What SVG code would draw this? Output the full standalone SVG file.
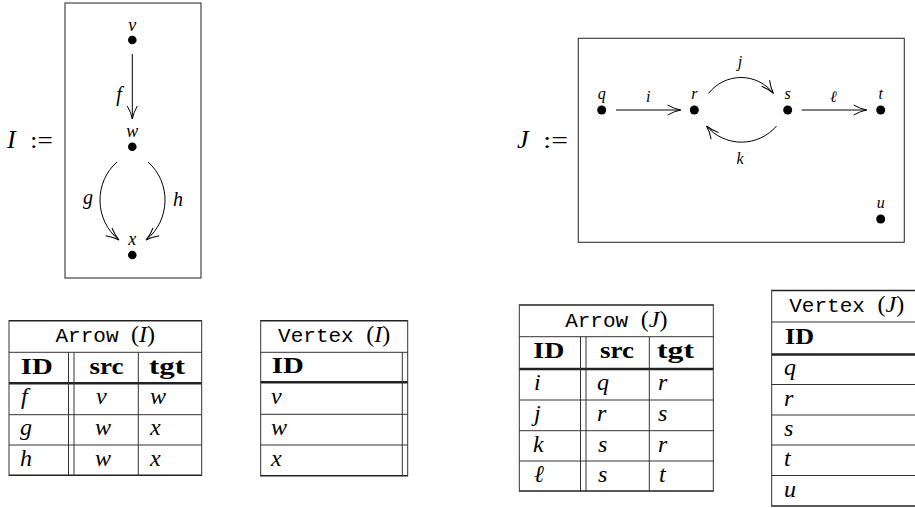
<svg xmlns="http://www.w3.org/2000/svg" width="915" height="508" viewBox="0 0 915 508">
<defs>
<style>
.bg{fill:#fff}
.frame{fill:none;stroke:#333;stroke-width:1.1}
.edge{fill:none;stroke:#000;stroke-width:1}
.dot{fill:#000}
.m{font-family:"Liberation Serif","DejaVu Serif",serif;font-style:italic;fill:#000}
.rm{font-family:"Liberation Serif","DejaVu Serif",serif;fill:#000}
.tt{font-family:"Liberation Mono","DejaVu Sans Mono",monospace;fill:#000}
.bf{font-family:"Liberation Serif","DejaVu Serif",serif;font-weight:bold;fill:#000;font-size:24px}
.nl{font-size:18px}
.el{font-size:20px}
.nl2{font-size:16px}
.el2{font-size:16px}
.cell{font-size:24px}
.ln{stroke:#333;stroke-width:1;fill:none}
.thick{stroke:#222;stroke-width:2.6;fill:none}
.outer{stroke:#222;stroke-width:1.6;fill:none}
</style>
<marker id="ah" markerWidth="16" markerHeight="12" refX="14" refY="6" orient="auto" markerUnits="userSpaceOnUse" viewBox="0 0 16 12">
<path d="M1,1 Q8,5 14,6 Q8,7 1,11" fill="none" stroke="#000" stroke-width="1"/>
</marker>
</defs>
<rect class="bg" x="0" y="0" width="915" height="508"/>

<!-- Graph I -->
<g id="graphI">
<text class="m" x="7" y="148" font-size="26">I</text>
<text class="rm" x="30" y="148" font-size="23" textLength="23" lengthAdjust="spacingAndGlyphs">:=</text>
<rect class="frame" x="65" y="3" width="136" height="275"/>
</g>
<g id="node-v"><circle class="dot" cx="132.3" cy="40" r="4.3"/><text class="m nl" x="132.3" y="31" text-anchor="middle">v</text></g>
<g id="node-w"><circle class="dot" cx="132.3" cy="146.7" r="4.3"/><text class="m nl" x="132.3" y="137" text-anchor="middle">w</text></g>
<g id="node-x"><circle class="dot" cx="132.3" cy="255" r="4.3"/><text class="m nl" x="132.3" y="245" text-anchor="middle">x</text></g>
<g id="edges-I">
<line class="edge" x1="132.3" y1="54" x2="132.3" y2="119" marker-end="url(#ah)"/>
<text class="m el" x="119" y="101" text-anchor="middle">f</text>
<path class="edge" d="M117,162 C94,182 94,220 119,240" marker-end="url(#ah)"/>
<text class="m el" x="88" y="204" text-anchor="middle">g</text>
<path class="edge" d="M148,162 C171,182 171,220 146,240" marker-end="url(#ah)"/>
<text class="m el" x="178" y="206" text-anchor="middle">h</text>
</g>

<!-- Graph J -->
<g id="graphJ">
<text class="m" x="517" y="148" font-size="26">J</text>
<text class="rm" x="543" y="148" font-size="23" textLength="25" lengthAdjust="spacingAndGlyphs">:=</text>
<rect class="frame" x="578.3" y="38.3" width="326" height="204"/>
</g>
<g id="node-q"><circle class="dot" cx="601.7" cy="110" r="4.5"/><text class="m nl2" x="601.7" y="99" text-anchor="middle">q</text></g>
<g id="node-r"><circle class="dot" cx="694.3" cy="110" r="4.5"/><text class="m nl2" x="694.3" y="99" text-anchor="middle">r</text></g>
<g id="node-s"><circle class="dot" cx="787.7" cy="110" r="4.5"/><text class="m nl2" x="787.7" y="99" text-anchor="middle">s</text></g>
<g id="node-t"><circle class="dot" cx="880.7" cy="110" r="4.5"/><text class="m nl2" x="880.7" y="99" text-anchor="middle">t</text></g>
<g id="node-u"><circle class="dot" cx="880.7" cy="219" r="4.5"/><text class="m nl2" x="880.7" y="208" text-anchor="middle">u</text></g>
<g id="edges-J">
<line class="edge" x1="616" y1="110" x2="680.7" y2="110" marker-end="url(#ah)"/>
<text class="m el2" x="648.3" y="102" text-anchor="middle">i</text>
<path class="edge" d="M708.5,93.5 A41,41 0 0 1 773.5,93.5" marker-end="url(#ah)"/>
<text class="m el2" x="740" y="67" text-anchor="middle">j</text>
<path class="edge" d="M776.5,126 A46,46 0 0 1 706.5,126" marker-end="url(#ah)"/>
<text class="m el2" x="740" y="164" text-anchor="middle">k</text>
<line class="edge" x1="801.7" y1="110" x2="866.7" y2="110" marker-end="url(#ah)"/>
<text class="m el2" x="833.3" y="102" text-anchor="middle">ℓ</text>
</g>

<!-- Table Arrow (I) -->
<g id="table-arrow-I">
<line class="outer" x1="9" y1="320.7" x2="201.7" y2="320.7"/>
<line class="ln" x1="9" y1="352.3" x2="201.7" y2="352.3"/>
<line class="thick" x1="9" y1="383.3" x2="201.7" y2="383.3"/>
<line class="ln" x1="9" y1="414.7" x2="201.7" y2="414.7"/>
<line class="ln" x1="9" y1="445" x2="201.7" y2="445"/>
<line class="outer" x1="9" y1="475.3" x2="201.7" y2="475.3"/>
<line class="ln" x1="9" y1="320" x2="9" y2="476"/>
<line class="ln" x1="201.7" y1="320" x2="201.7" y2="476"/>
<line class="ln" x1="68.5" y1="352.3" x2="68.5" y2="476"/>
<line class="ln" x1="74" y1="352.3" x2="74" y2="476"/>
<line class="ln" x1="138.3" y1="352.3" x2="138.3" y2="476"/>
<text x="105.3" y="342" text-anchor="middle"><tspan class="tt" font-size="21">Arrow </tspan><tspan class="rm" font-size="24">(</tspan><tspan class="m" font-size="24">I</tspan><tspan class="rm" font-size="24">)</tspan></text>
<text class="bf" x="20.7" y="373.5" textLength="32" lengthAdjust="spacingAndGlyphs">ID</text>
<text class="bf" x="89.5" y="373.5" textLength="34" lengthAdjust="spacingAndGlyphs">src</text>
<text class="bf" x="149" y="373.5" textLength="36" lengthAdjust="spacingAndGlyphs">tgt</text>
<text class="m cell" x="21" y="404">f</text>
<text class="m cell" x="96" y="404">v</text>
<text class="m cell" x="150" y="404">w</text>
<text class="m cell" x="20" y="435">g</text>
<text class="m cell" x="95" y="435">w</text>
<text class="m cell" x="150" y="435">x</text>
<text class="m cell" x="20" y="465.5">h</text>
<text class="m cell" x="95" y="465.5">w</text>
<text class="m cell" x="150" y="465.5">x</text>
</g>

<!-- Table Vertex (I) -->
<g id="table-vertex-I">
<line class="outer" x1="260.7" y1="320.7" x2="407.7" y2="320.7"/>
<line class="ln" x1="260.7" y1="352.3" x2="407.7" y2="352.3"/>
<line class="thick" x1="260.7" y1="382.3" x2="407.7" y2="382.3"/>
<line class="ln" x1="260.7" y1="414.3" x2="407.7" y2="414.3"/>
<line class="ln" x1="260.7" y1="445" x2="407.7" y2="445"/>
<line class="outer" x1="260.7" y1="475.7" x2="407.7" y2="475.7"/>
<line class="ln" x1="260.7" y1="320" x2="260.7" y2="476.5"/>
<line class="ln" x1="407.7" y1="320" x2="407.7" y2="476.5"/>
<line class="ln" x1="402.3" y1="352.3" x2="402.3" y2="476.5"/>
<text x="334.2" y="342" text-anchor="middle"><tspan class="tt" font-size="21">Vertex </tspan><tspan class="rm" font-size="24">(</tspan><tspan class="m" font-size="24">I</tspan><tspan class="rm" font-size="24">)</tspan></text>
<text class="bf" x="271.7" y="373" textLength="32" lengthAdjust="spacingAndGlyphs">ID</text>
<text class="m cell" x="271" y="403.5">v</text>
<text class="m cell" x="271" y="435">w</text>
<text class="m cell" x="271" y="465.5">x</text>
</g>

<!-- Table Arrow (J) -->
<g id="table-arrow-J">
<line class="outer" x1="519.3" y1="305" x2="713.3" y2="305"/>
<line class="ln" x1="519.3" y1="336.7" x2="713.3" y2="336.7"/>
<line class="thick" x1="519.3" y1="369" x2="713.3" y2="369"/>
<line class="ln" x1="519.3" y1="400" x2="713.3" y2="400"/>
<line class="ln" x1="519.3" y1="430.7" x2="713.3" y2="430.7"/>
<line class="ln" x1="519.3" y1="461" x2="713.3" y2="461"/>
<line class="outer" x1="519.3" y1="491" x2="713.3" y2="491"/>
<line class="ln" x1="519.3" y1="304.3" x2="519.3" y2="491.8"/>
<line class="ln" x1="713.3" y1="304.3" x2="713.3" y2="491.8"/>
<line class="ln" x1="580.5" y1="336.7" x2="580.5" y2="491.8"/>
<line class="ln" x1="586" y1="336.7" x2="586" y2="491.8"/>
<line class="ln" x1="649.3" y1="336.7" x2="649.3" y2="491.8"/>
<text x="616.3" y="326.5" text-anchor="middle"><tspan class="tt" font-size="21">Arrow </tspan><tspan class="rm" font-size="24">(</tspan><tspan class="m" font-size="24">J</tspan><tspan class="rm" font-size="24">)</tspan></text>
<text class="bf" x="533.3" y="358" textLength="31" lengthAdjust="spacingAndGlyphs">ID</text>
<text class="bf" x="600" y="358" textLength="34" lengthAdjust="spacingAndGlyphs">src</text>
<text class="bf" x="657" y="358" textLength="37" lengthAdjust="spacingAndGlyphs">tgt</text>
<text class="m cell" x="534" y="390">i</text>
<text class="m cell" x="597" y="390">q</text>
<text class="m cell" x="658" y="390">r</text>
<text class="m cell" x="534" y="421">j</text>
<text class="m cell" x="597" y="421">r</text>
<text class="m cell" x="658" y="421">s</text>
<text class="m cell" x="533" y="451.5">k</text>
<text class="m cell" x="598" y="451.5">s</text>
<text class="m cell" x="658" y="451.5">r</text>
<text class="m cell" x="534" y="482">ℓ</text>
<text class="m cell" x="598" y="482">s</text>
<text class="m cell" x="659" y="482">t</text>
</g>

<!-- Table Vertex (J) -->
<g id="table-vertex-J">
<line class="outer" x1="771.7" y1="290.5" x2="922" y2="290.5"/>
<line class="ln" x1="771.7" y1="322" x2="922" y2="322"/>
<line class="thick" x1="771.7" y1="354.5" x2="922" y2="354.5"/>
<line class="ln" x1="771.7" y1="384.5" x2="922" y2="384.5"/>
<line class="ln" x1="771.7" y1="415" x2="922" y2="415"/>
<line class="ln" x1="771.7" y1="445" x2="922" y2="445"/>
<line class="ln" x1="771.7" y1="475.5" x2="922" y2="475.5"/>
<line class="outer" x1="771.7" y1="506" x2="922" y2="506"/>
<line class="ln" x1="771.7" y1="289.8" x2="771.7" y2="506.8"/>
<text x="846.7" y="312" text-anchor="middle"><tspan class="tt" font-size="21">Vertex </tspan><tspan class="rm" font-size="24">(</tspan><tspan class="m" font-size="24">J</tspan><tspan class="rm" font-size="24">)</tspan></text>
<text class="bf" x="785" y="343.5" textLength="29" lengthAdjust="spacingAndGlyphs">ID</text>
<text class="m cell" x="784" y="375">q</text>
<text class="m cell" x="784" y="405.5">r</text>
<text class="m cell" x="784" y="436">s</text>
<text class="m cell" x="784" y="466">t</text>
<text class="m cell" x="784" y="496.5">u</text>
</g>
</svg>
